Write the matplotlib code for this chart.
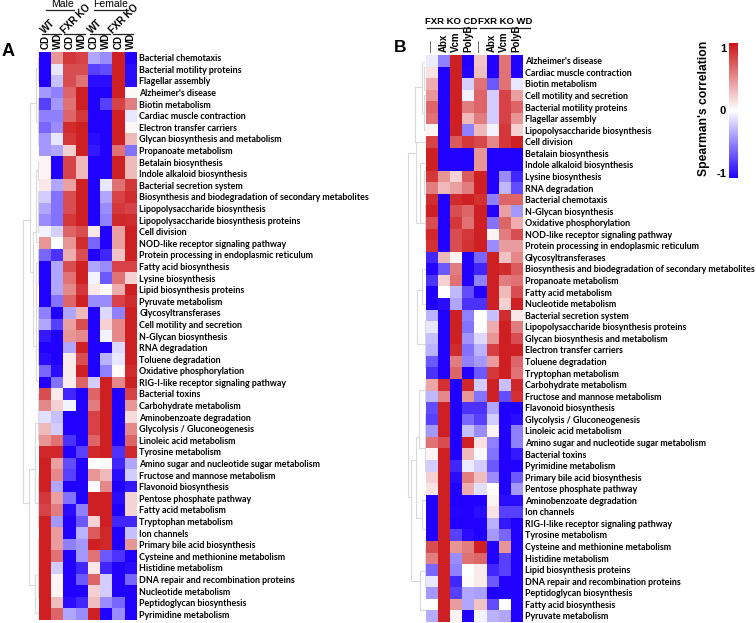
"""Spearman correlation heatmaps of KEGG pathways, panels A and B."""
import matplotlib
matplotlib.use("Agg")
import matplotlib.pyplot as plt
import numpy as np
from matplotlib.cm import ScalarMappable
from matplotlib.colors import LinearSegmentedColormap, Normalize

W, H = 756, 623
LABEL_FONT = "Lato"
HEAD_FONT = "Liberation Sans"

a_columns = ["CD", "WD", "CD", "WD", "CD", "WD", "CD", "WD"]
b_columns = ["—", "Abx", "Vcm", "PolyB", "—", "Abx", "Vcm", "PolyB"]

a_rows = [
    "Bacterial chemotaxis", "Bacterial motility proteins", "Flagellar assembly",
    "Alzheimer's disease", "Biotin metabolism", "Cardiac muscle contraction",
    "Electron transfer carriers", "Glycan biosynthesis and metabolism",
    "Propanoate metabolism", "Betalain biosynthesis", "Indole alkaloid biosynthesis",
    "Bacterial secretion system",
    "Biosynthesis and biodegradation of secondary metabolites",
    "Lipopolysaccharide biosynthesis", "Lipopolysaccharide biosynthesis proteins",
    "Cell division", "NOD-like receptor signaling pathway",
    "Protein processing in endoplasmic reticulum", "Fatty acid biosynthesis",
    "Lysine biosynthesis", "Lipid biosynthesis proteins", "Pyruvate metabolism",
    "Glycosyltransferases", "Cell motility and secretion", "N-Glycan biosynthesis",
    "RNA degradation", "Toluene degradation", "Oxidative phosphorylation",
    "RIG-I-like receptor signaling pathway", "Bacterial toxins",
    "Carbohydrate metabolism", "Aminobenzoate degradation",
    "Glycolysis / Gluconeogenesis", "Linoleic acid metabolism", "Tyrosine metabolism",
    "Amino sugar and nucleotide sugar metabolism", "Fructose and mannose metabolism",
    "Flavonoid biosynthesis", "Pentose phosphate pathway", "Fatty acid metabolism",
    "Tryptophan metabolism", "Ion channels", "Primary bile acid biosynthesis",
    "Cysteine and methionine metabolism", "Histidine metabolism",
    "DNA repair and recombination proteins", "Nucleotide metabolism",
    "Peptidoglycan biosynthesis", "Pyrimidine metabolism",
]

a_values = [
    [-1, .45, .85, .8, -.35, -.45, .95, -1],
    [-1, -.1, .75, .75, -.75, -.7, .95, -.95],
    [-1, -.25, .75, .6, -.95, -.95, .95, -.95],
    [-.4, -.5, .65, .95, -1, -1, .95, .03],
    [-.75, -.4, .6, .95, -1, -.75, .8, .55],
    [-.5, -.5, .65, .85, -1, -1, .95, -.1],
    [-.6, -.45, .9, .95, -1, -1, .95, .03],
    [-.4, -.1, .85, .95, -.95, -1, .95, .3],
    [-.4, -.35, .2, .95, -.9, -1, .6, -.55],
    [.04, -1, .8, .3, -1, -1, .95, .3],
    [.04, -1, .8, .3, -1, -1, .95, .3],
    [.1, -.35, .4, .95, -1, -.1, .6, .85],
    [-.2, -.55, .75, .95, -1, -.35, .8, .9],
    [-.35, -.55, .75, .95, -1, -.45, .85, .8],
    [-.45, -.55, .85, .95, -1, -.5, .92, .9],
    [-.05, -.18, .65, .75, .1, -1, .4, .95],
    [.45, 0, .45, .9, -.6, -1, .4, .95],
    [-.6, -.8, .35, .75, -1, -.85, .25, .95],
    [-1, -.35, .75, .95, -.35, -.45, .8, .8],
    [-1, -.35, .6, .95, -.05, -.65, .6, .2],
    [-1, -.35, .5, .85, .1, .02, .35, .95],
    [-1, -.55, .65, .95, -.45, -.45, .8, .9],
    [-.5, -1, -.35, .3, -1, -.15, -.5, .95],
    [-.35, -.75, .4, .75, -1, .2, .5, .95],
    [-.9, -1, .45, .5, -1, -.05, .5, .95],
    [-1, -1, -.35, .95, -1, -1, -.15, .95],
    [-.95, -1, .08, .75, -1, -.3, -.1, .95],
    [-.6, -.95, .08, .95, -1, -.5, .02, .9],
    [-1, -.55, .08, .65, -.2, .95, .5, .95],
    [.75, .08, -.85, -1, .65, .95, -1, .8],
    [.5, .2, -.05, -1, .55, .95, -1, .45],
    [-.12, -.25, -1, -1, .8, .95, -1, .15],
    [.3, -.2, -1, -1, .8, .95, -1, .5],
    [.45, .6, -.8, -1, .65, .95, -1, .65],
    [.92, .92, -1, -.75, .92, .95, -.8, .92],
    [.95, .4, -.7, -1, 0, .03, -.85, -.35],
    [.95, .5, -.75, -1, .45, .3, -.95, -.2],
    [.95, -.35, -1, -1, -.02, .5, -1, -.9],
    [.85, .4, -.55, -1, .95, .95, -.95, .18],
    [.8, .55, -.95, -.5, .95, .95, -1, .18],
    [.95, -.4, -1, -.65, .18, .95, -.85, -.85],
    [.95, .42, -1, -.3, .7, .92, -1, -.25],
    [.95, .42, -.5, -.4, .95, .92, -1, .45],
    [.95, .6, -1, -.4, .6, -.65, -.8, -1],
    [.95, -.2, -1, -.85, .1, -.85, -1, -.95],
    [.95, .04, -1, -.65, .65, -.2, -1, -.6],
    [.95, .05, -1, -1, .2, -.2, -1, -1],
    [.95, .28, -.95, -.85, .28, -.45, -.6, -1],
    [.95, .65, -.35, -.45, .95, -1, -.45, -1],
]

b_rows = [
    "Alzheimer's disease", "Cardiac muscle contraction", "Biotin metabolism",
    "Cell motility and secretion", "Bacterial motility proteins", "Flagellar assembly",
    "Lipopolysaccharide biosynthesis", "Cell division", "Betalain biosynthesis",
    "Indole alkaloid biosynthesis", "Lysine biosynthesis", "RNA degradation",
    "Bacterial chemotaxis", "N-Glycan biosynthesis", "Oxidative phosphorylation",
    "NOD-like receptor signaling pathway",
    "Protein processing in endoplasmic reticulum", "Glycosyltransferases",
    "Biosynthesis and biodegradation of secondary metabolites",
    "Propanoate metabolism", "Fatty acid metabolism", "Nucleotide metabolism",
    "Bacterial secretion system", "Lipopolysaccharide biosynthesis proteins",
    "Glycan biosynthesis and metabolism", "Electron transfer carriers",
    "Toluene degradation", "Tryptophan metabolism", "Carbohydrate metabolism",
    "Fructose and mannose metabolism", "Flavonoid biosynthesis",
    "Glycolysis / Gluconeogenesis", "Linoleic acid metabolism",
    "Amino sugar and nucleotide sugar metabolism", "Bacterial toxins",
    "Pyrimidine metabolism", "Primary bile acid biosynthesis",
    "Pentose phosphate pathway", "Aminobenzoate degradation", "Ion channels",
    "RIG-I-like receptor signaling pathway", "Tyrosine metabolism",
    "Cysteine and methionine metabolism", "Histidine metabolism",
    "Lipid biosynthesis proteins", "DNA repair and recombination proteins",
    "Peptidoglycan biosynthesis", "Fatty acid biosynthesis", "Pyruvate metabolism",
]

b_values = [
    [-.08, -.5, .95, -1, .25, -1, .6, -1],
    [.12, -1, .95, -.98, .28, -1, .6, -1],
    [.35, -1, .95, -.18, .6, -.65, .6, -.1],
    [.45, -1, .95, -.06, .65, -.2, .8, .4],
    [.65, -1, .95, .55, .65, -.2, .8, .65],
    [.6, -1, .95, .3, .55, -.2, .8, .45],
    [.05, -1, .95, -.5, .3, -.05, .85, .2],
    [.8, -1, .7, .85, .78, .5, .85, .95],
    [.95, -1, -1, -1, .45, -1, -1, -1],
    [.95, -1, -1, -1, .45, -1, -1, -1],
    [.85, .45, .18, .7, .95, -1, -.45, -.85],
    [.55, .3, .4, .55, .95, -1, -.28, -.7],
    [.9, -1, .9, .95, .88, -.5, .65, .65],
    [.95, -1, .75, .65, .95, -1, .4, -.4],
    [.75, -1, .85, .6, .95, -.55, .65, .35],
    [.92, -1, .75, .85, .95, .05, .55, .75],
    [.88, -1, .75, .87, .95, -.45, .42, .42],
    [-.85, .3, .05, -1, -.6, .95, .25, .5],
    [-.98, -.65, .55, -1, -.85, .95, .9, .7],
    [-.8, .2, .6, -1, -.5, .95, .55, .6],
    [-1, 0, -.28, -.7, -1, .95, .3, .75],
    [-1, -.95, -.35, -.8, -.8, .95, .2, .95],
    [-.3, -1, .95, -.5, 0, -.25, .9, .1],
    [-.1, -1, .95, -.55, 0, .35, .95, .55],
    [-.25, -1, .95, -.42, -.15, .45, .95, .75],
    [-.3, -1, .9, -.55, -.3, .82, .95, .95],
    [-.65, -1, .55, -.5, -.4, .42, .95, .65],
    [-.8, -1, .65, -1, -.65, .85, .95, .6],
    [.38, .88, -1, .92, -.2, .95, -.25, .92],
    [-.28, .5, -1, .45, -.55, .95, -.7, .88],
    [-.7, .95, -1, -.8, -.8, -.35, -1, -1],
    [-.75, .95, -1, -.6, -.75, -.2, -1, -.95],
    [-.4, .95, -1, -.25, -.45, .05, -1, -.5],
    [.6, .75, -1, .95, .12, -.5, -1, -.5],
    [.04, .95, -1, .3, -.03, -.55, -1, -.9],
    [-.2, .95, -.85, -.08, -.2, -.65, -1, -1],
    [.2, .95, -.95, .55, .28, -.45, -1, -.65],
    [.12, .95, -1, .35, -.12, 0, -1, -.4],
    [-1, .95, -1, -1, -1, .05, -.95, -.95],
    [-1, .95, -.98, -1, -.95, .12, -.75, -.75],
    [-1, .95, -1, -1, -1, -.3, -.9, -1],
    [-1, .95, -.75, -.95, -1, -.4, -.6, -1],
    [.75, .95, .45, .55, .95, -1, .45, -1],
    [.55, .95, -.45, .6, .65, -1, -.75, -1],
    [-.6, .95, -.5, 0, .08, -.85, -.75, -1],
    [-.1, .95, -.85, .02, .08, -.65, -1, -1],
    [-.4, .95, -.75, -.35, -.38, -1, -1, -1],
    [0, .95, .42, -.35, .25, -.7, 0, -1],
    [-.33, .95, .05, -1, -.04, -.3, -.35, -1],
]

# dendrogram merges: height, top row, bottom row, height of top child, height of bottom child
a_merges = [
    (16, 14.5, 38.9, 9.5, 10), (9.5, 4.4, 19, 3, 6.5), (3, 1.4, 6, 1.5, 1),
    (1.5, 0.5, 2.5, 0, 0), (1, 4, 8, 0, 0), (6.5, 15.5, 25.4, 3, 3),
    (3, 10.2, 16.4, 1, 1), (1, 9.5, 11, 0, 0), (1, 12, 15.5, 0, 0),
    (3, 18.2, 28.4, 1.5, 1.5), (1.5, 17, 20, 0, 0), (1.5, 22, 27, 0, 0),
    (10, 36, 46, 4, 4), (4, 32, 38.9, 1, 1), (1, 29.5, 33.5, 0, 0),
    (1, 36.5, 41, 0, 0), (4, 45.1, 48.4, 1, 0), (1, 42, 47, 0, 0),
]
b_merges = [
    (17.7, 8.5, 38.2, 10, 15), (10, 7.5, 14.5, 10.5, 6), (10.5, 2.8, 7.5, 4, 0),
    (4, 0.6, 5, 1.5, 1.5), (1.5, 1, 3, 0, 0), (1.5, 3.5, 6.5, 0, 0),
    (6, 9.3, 14.5, 2, 1), (2, 10, 12, 0, 0), (1, 13, 16, 0, 0),
    (8.5, 20.3, 25, 4, 1), (4, 18.5, 21.5, 0, 0), (1, 23, 27, 0, 0),
    (15, 35, 45.5, 10, 6), (10, 33, 40, 7, 4), (7, 29, 34, 1, 1),
    (1, 28.5, 30, 0, 0), (1, 31, 36, 0, 0), (4, 38.5, 41, 1, 1),
    (6, 44.6, 48, 1, 0), (1, 42.5, 46, 0, 0),
]

cmap = LinearSegmentedColormap.from_list("rwb", ["#2000ff", "#ffffff", "#cc1518"])
norm = Normalize(-1, 1)


def px_axes(fig, left, top, right, bottom):
    return fig.add_axes([left / W, 1 - bottom / H, (right - left) / W, (bottom - top) / H])


def fig_text(fig, x, y, s, **kw):
    kw.setdefault("ha", "center")
    kw.setdefault("va", "center")
    kw.setdefault("fontweight", "bold")
    fig.text(x / W, 1 - y / H, s, **kw)


def fig_line(fig, x0, x1, y, color="#222222", lw=0.9):
    fig.add_artist(plt.Line2D([x0 / W, x1 / W], [1 - y / H, 1 - y / H], color=color, lw=lw))


def draw_heatmap(fig, box, values, rows, columns, merges, dend_w):
    left, top, right, bottom = box
    ax = px_axes(fig, left, top, right, bottom)
    ax.imshow(np.array(values), cmap=cmap, norm=norm, aspect="auto",
              extent=(0, 8, len(rows), 0), interpolation="nearest")
    ax.set_yticks(np.arange(len(rows)) + 0.5, rows, fontsize=6.4, fontweight="bold",
                  family=LABEL_FONT)
    ax.yaxis.tick_right()
    ax.set_xticks(np.arange(8) + 0.5, columns, rotation=90, fontsize=7, fontweight="bold",
                  family=HEAD_FONT)
    ax.xaxis.tick_top()
    ax.tick_params(length=0, pad=2)
    for lab in ax.get_xticklabels():
        if lab.get_text() == "—":
            lab.set_fontsize(8.6)
            lab.set_fontweight("normal")
            lab.set_color("#555555")
    for s in ax.spines.values():
        s.set_visible(False)

    # row dendrogram on the left, grey brackets
    dax = px_axes(fig, left - dend_w, top, left, bottom)
    dax.set_xlim(dend_w, 0)
    dax.set_ylim(len(rows), 0)
    dax.axis("off")
    for h, y0, y1, h0, h1 in merges:
        dax.plot([h0, h, h, h1], [y0, y0, y1, y1], color="#d9d9d9", lw=0.8,
                 solid_joinstyle="miter")
    return ax


fig = plt.figure(figsize=(W / 100, H / 100), dpi=100)

draw_heatmap(fig, (39.3, 52, 136.7, 620), a_values, a_rows, a_columns, a_merges, 20)
draw_heatmap(fig, (425.7, 55, 522.3, 621.7), b_values, b_rows, b_columns, b_merges, 20)

# panel A headers
for x0, x1 in [(42, 61), (64, 85), (90, 110), (113, 133)]:
    fig_line(fig, x0, x1, 34)
fig_line(fig, 46, 74, 9.5)
fig_line(fig, 94, 128, 9.5)
fig_text(fig, 63, 4, "Male", fontsize=7.5, family=HEAD_FONT, fontweight="normal")
fig_text(fig, 111, 4, "Female", fontsize=7.5, family=HEAD_FONT, fontweight="normal")
for x, y, s in [(48, 26, "WT"), (76, 19, "FXR KO"), (95, 26, "WT"), (124, 19, "FXR KO")]:
    fig_text(fig, x, y, s, fontsize=7, rotation=45, family=HEAD_FONT)

# panel B headers
fig_line(fig, 427, 476, 28)
fig_line(fig, 480, 530, 28)
fig_text(fig, 451.5, 22, "FXR KO CD", fontsize=6.8, family=HEAD_FONT)
fig_text(fig, 505, 22, "FXR KO WD", fontsize=6.8, family=HEAD_FONT)

fig_text(fig, 8.5, 52, "A", fontsize=13, family=HEAD_FONT)
fig_text(fig, 400.5, 48, "B", fontsize=12.5, family=HEAD_FONT)

# colorbar
cax = px_axes(fig, 729, 43, 738, 178)
cb = fig.colorbar(ScalarMappable(norm=norm, cmap=cmap), cax=cax)
cb.set_ticks([-0.93, 0, 0.93], labels=["-1", "0", "1"])
cb.ax.yaxis.tick_left()
cb.ax.tick_params(length=0, pad=2, labelsize=8)
for lab in cb.ax.get_yticklabels():
    lab.set_fontweight("bold")
    lab.set_family(HEAD_FONT)
cb.outline.set_visible(False)
fig_text(fig, 704, 108, "Spearman's correlation", rotation=90, fontsize=8.7, family=HEAD_FONT)

fig.savefig("out.png", dpi=100)
